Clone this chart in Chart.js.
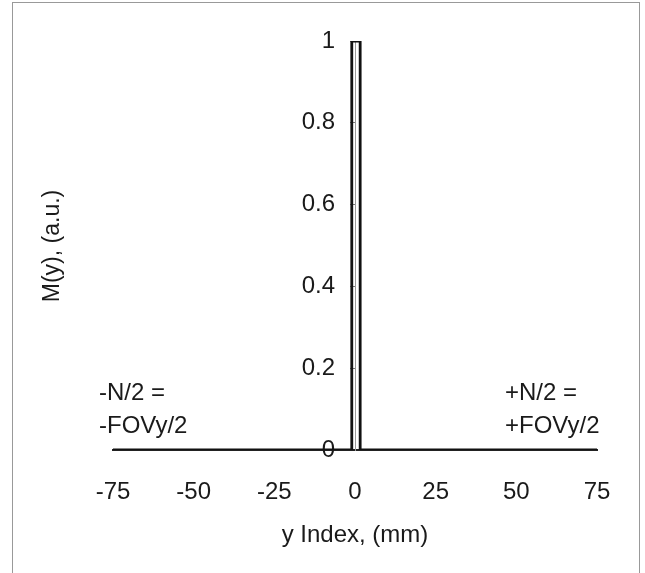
<!DOCTYPE html>
<html>
<head>
<meta charset="utf-8">
<script src="https://cdn.jsdelivr.net/npm/chart.js@4"></script>
<style>
  html, body { margin: 0; padding: 0; background: #fff; }
  #wrap { width: 645px; height: 573px; position: relative; }
</style>
</head>
<body>
<div id="wrap"><canvas id="myChart"></canvas></div>
<script>
// pulse profile M(y) across the field of view
const yIndex = [-75, -1, -1, 1.6, 1.6, 75];
const magnitude = [0, 0, 1, 1, 0, 0];
const xTicks = [-75, -50, -25, 0, 25, 50, 75];
const yTicks = [0, 0.2, 0.4, 0.6, 0.8, 1];
const leftNote = ["-N/2 =", "-FOVy/2"];
const rightNote = ["+N/2 =", "+FOVy/2"];

const font = "'Liberation Sans', Arial, sans-serif";

const notes = {
    id: 'notes',
    afterDraw(chart) {
        const c = chart.ctx;
        c.save();
        c.fillStyle = '#1a1a1a';
        c.font = '24px ' + font;
        c.textBaseline = 'middle';
        c.textAlign = 'left';
        c.fillText(leftNote[0], 99, 393);
        c.fillText(leftNote[1], 99, 426);
        c.fillText(rightNote[0], 505, 393);
        c.fillText(rightNote[1], 505, 426);
        // y axis title
        c.font = '23px ' + font;
        c.translate(53, 246);
        c.rotate(-Math.PI / 2);
        c.textAlign = 'center';
        c.fillText('M(y), (a.u.)', 0, 0);
        c.restore();
        // frame round the figure
        c.save();
        c.strokeStyle = '#999';
        c.lineWidth = 1;
        c.strokeRect(12.5, 2.5, 627, 580);
        c.restore();
    }
};

const ctx = document.getElementById('myChart').getContext('2d');
const myChart = new Chart(ctx, {
    type: 'scatter',
    data: {
        datasets: [{
            data: yIndex.map((x, i) => ({x: x, y: magnitude[i]})),
            showLine: true,
            borderColor: '#111',
            borderWidth: 2.8,
            pointRadius: 0,
            tension: 0
        }]
    },
    options: {
        responsive: true,
        maintainAspectRatio: false,
        animation: false,
        events: [],
        layout: {padding: {left: 113, right: 48, top: 41, bottom: 123}},
        plugins: {legend: {display: false}, tooltip: {enabled: false}},
        scales: {
            x: {
                type: 'linear',
                position: {y: 0},
                min: -75,
                max: 75,
                afterBuildTicks: (s) => { s.ticks = xTicks.map(v => ({value: v})); },
                grid: {display: false, drawOnChartArea: false, drawTicks: true, tickLength: 6, tickColor: '#555'},
                border: {display: true, color: '#222', width: 2},
                ticks: {color: '#1a1a1a', font: {family: font, size: 24}, padding: 22, maxRotation: 0},
                title: {display: true, text: 'y Index, (mm)', color: '#1a1a1a', font: {family: font, size: 24}, padding: {top: -8, bottom: 7}}
            },
            y: {
                type: 'linear',
                position: {x: 0},
                min: 0,
                max: 1,
                afterBuildTicks: (s) => { s.ticks = yTicks.map(v => ({value: v})); },
                grid: {display: true, drawOnChartArea: false, drawTicks: true, tickLength: 5, tickColor: '#777'},
                border: {display: true, color: '#999', width: 1},
                // trailing spaces keep the labels clear of the centred axis
                ticks: {color: '#1a1a1a', font: {family: font, size: 24}, callback: (v) => String(v) + '   '}
            }
        }
    },
    plugins: [notes]
});
</script>
</body>
</html>
